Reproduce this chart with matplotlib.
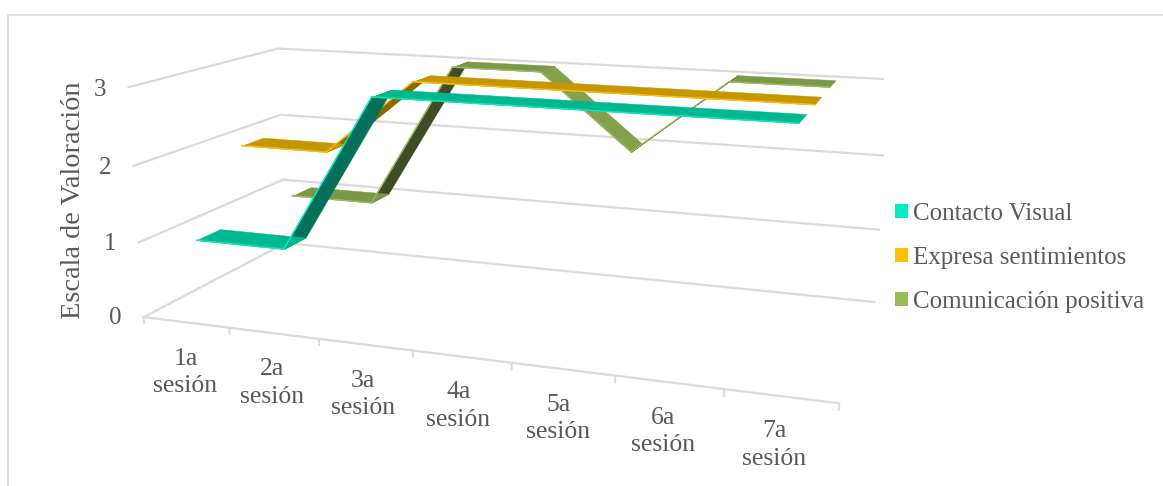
import matplotlib
matplotlib.use('Agg')
import matplotlib.pyplot as plt
from matplotlib.lines import Line2D
from matplotlib.patches import Patch
from mpl_toolkits.mplot3d import Axes3D, proj3d
from mpl_toolkits.mplot3d.art3d import Poly3DCollection

plt.rcParams['font.family'] = ['Liberation Serif', 'DejaVu Serif']

sessions = ['1a\nsesión', '2a\nsesión', '3a\nsesión', '4a\nsesión', '5a\nsesión', '6a\nsesión', '7a\nsesión']
value_ticks = [0, 1, 2, 3]
series_names = ['Contacto Visual', 'Expresa sentimientos', 'Comunicación positiva']
contacto = [1, 1, 3, 3, 3, 3, 3]
expresa = [2, 2, 3, 3, 3, 3, 3]
comunicacion = [1, 1, 3, 3, 2, 3, 3]

# where each ribbon sits along the depth axis
depth_pos = [0.5, 1.47, 2.53]
half_depth = 0.23

legend_colors = ['#00EFBF', '#FFC000', '#9BBB59']
flat_colors = ['#00B890', '#C69600', '#7C9748']
up_colors = ['#06705A', '#8A6A00', '#3F4C25']
down_colors = ['#00C79C', '#D6A300', '#84A04C']

TEXT = '#595959'
GRID = '#D9D9D9'
W, H = 1163, 486

fig = plt.figure(figsize=(W / 100, H / 100), dpi=100)

# square 3d axes, placed so the middle of the box lands on the chart
side = 759
cx, cy = 515, 198.5
left = cx - 0.5135 * side
bottom = H - cy - 0.5135 * side
ax = fig.add_axes([left / W, bottom / H, side / W, side / H], projection='3d')
ax.patch.set_alpha(0)
ax.computed_zorder = False
ax.set_proj_type('persp', focal_length=0.3443)
ax.view_init(elev=13.7, azim=-70.5)
ax.set_box_aspect((686, 295, 233))
ax.set_axis_off()

n = len(sessions)
ax.set_xlim(0, n)
ax.set_ylim(0, 3)
ax.set_zlim(0, 3)


def label(x, y, z, s, **kw):
    # 3d point to 2d axes data, so the text stays a plain 2d text
    px, py, _ = proj3d.proj_transform(x, y, z, ax.get_proj())
    ax.text2D(px, py, s, transform=ax.transData, color=TEXT, ha='center', va='center', **kw)


# walls and floor edge
for v in value_ticks:
    ax.plot([0, 0, n], [0, 3, 3], [v, v, v], color=GRID, lw=1.6, zorder=1)
ax.plot([0, n], [0, 0], [0, 0], color=GRID, lw=1.6, zorder=1)
for i in range(n + 1):
    ax.plot([i, i], [0, 0], [0, -0.08], color=GRID, lw=1.4, zorder=1)

for v in value_ticks:
    label(-0.34, 0, v - 0.06, str(v), fontsize=18)
for i, lab in enumerate(sessions):
    label(i + 0.46, 0, -0.683 + 0.016 * i, lab, fontsize=18.5, linespacing=1.3)

# back to front so the first series lies on top
all_series = [contacto, expresa, comunicacion]
for s in [2, 1, 0]:
    vals = all_series[s]
    y0 = depth_pos[s] - half_depth
    y1 = depth_pos[s] + half_depth
    base = 10 + (2 - s) * 10
    for i in range(n - 1):
        a, b = vals[i], vals[i + 1]
        xa, xb = i + 0.5, i + 1.5
        if b > a:
            col = up_colors[s]
        elif b < a:
            col = down_colors[s]
        else:
            col = flat_colors[s]
        quad = [[(xa, y0, a), (xb, y0, b), (xb, y1, b), (xa, y1, a)]]
        poly = Poly3DCollection(quad, facecolors=col, edgecolors=col, linewidths=0.3, zorder=base + (1 if b == a else 0))
        ax.add_collection3d(poly, autolim=False)
        ax.plot([xa, xb], [y0, y0], [a, b], color=legend_colors[s], lw=1.0, zorder=base + 2)

handles = [Patch(facecolor=c, edgecolor='none') for c in legend_colors]
fig.legend(handles, series_names, loc='upper left', bbox_to_anchor=(885 / W, 1 - 193 / H), frameon=False,
           fontsize=18, labelcolor=TEXT, handlelength=0.52, handleheight=0.52, handletextpad=0.2,
           labelspacing=0.88, borderpad=0.4, borderaxespad=0)

fig.text(73 / W, 1 - 200 / H, 'Escala de Valoración', rotation=90, color=TEXT, fontsize=20.4, ha='center', va='center')

# chart frame, only partly inside the crop
fig.add_artist(Line2D([8 / W, 8 / W, 1], [0, 1 - 15 / H, 1 - 15 / H], color=GRID, lw=1.2))

fig.savefig('out.png', dpi=100)
